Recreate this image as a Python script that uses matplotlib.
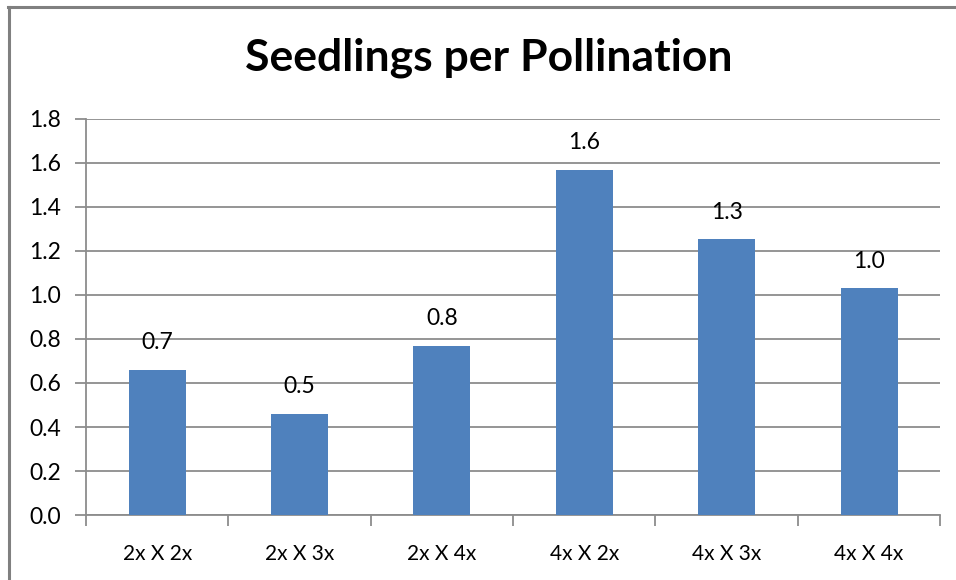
import matplotlib.pyplot as plt
from matplotlib.lines import Line2D
import numpy as np

categories = ["2x X 2x", "2x X 3x", "2x X 4x", "4x X 2x", "4x X 3x", "4x X 4x"]
seedlings = [0.66, 0.46, 0.77, 1.57, 1.253, 1.03]
y_ticks = [0.0, 0.2, 0.4, 0.6, 0.8, 1.0, 1.2, 1.4, 1.6, 1.8]

BAR_COLOR = "#4F81BD"
GRID_COLOR = "#8C8C8C"

fig = plt.figure(figsize=(9.56, 5.80), dpi=100)
ax = fig.add_axes([0.090, 0.112, 0.8935, 0.683])

x = np.arange(len(categories))
bars = ax.bar(x, seedlings, width=0.4, color=BAR_COLOR, zorder=3)

# value labels above each bar
for rect, val in zip(bars, seedlings):
    ax.annotate(f"{val:.1f}", (rect.get_x() + rect.get_width() / 2, val),
                xytext=(0, 12), textcoords="offset points",
                ha="center", va="bottom", fontsize=16.5, family="Lato", color="black")

ax.set_xlim(-0.5, len(categories) - 0.5)
ax.set_ylim(0, 1.8)
ax.set_yticks(y_ticks)
ax.set_yticklabels([f"{t:.1f}" for t in y_ticks], fontsize=16.5, family="Lato")
ax.yaxis.grid(True, color=GRID_COLOR, linewidth=1.3, zorder=0)

# category ticks sit on the boundaries between bars
ax.set_xticks(np.arange(-0.5, len(categories), 1.0))
ax.set_xticklabels([])
ax.set_xticks(x, minor=True)
ax.set_xticklabels(categories, minor=True, fontsize=15, family="Lato")
ax.tick_params(axis="x", which="minor", length=0, pad=21)
ax.tick_params(axis="x", which="major", length=8, width=1.3, color=GRID_COLOR)
ax.tick_params(axis="y", length=8, width=1.3, color=GRID_COLOR, pad=10)

for side in ["top", "right"]:
    ax.spines[side].set_visible(False)
for side in ["left", "bottom"]:
    ax.spines[side].set_color(GRID_COLOR)
    ax.spines[side].set_linewidth(1.3)

fig.text(0.511, 0.90, "Seedlings per Pollination", ha="center", va="center",
         fontsize=32, fontweight="bold", family="Lato")

# chart area outline (left and top edges)
fig.add_artist(Line2D([0.0095, 0.0095], [0.0, 0.9885], color="#808080", linewidth=2.2))
fig.add_artist(Line2D([0.0085, 1.0], [0.9885, 0.9885], color="#808080", linewidth=2.2))

fig.savefig("out.png", dpi=100)
